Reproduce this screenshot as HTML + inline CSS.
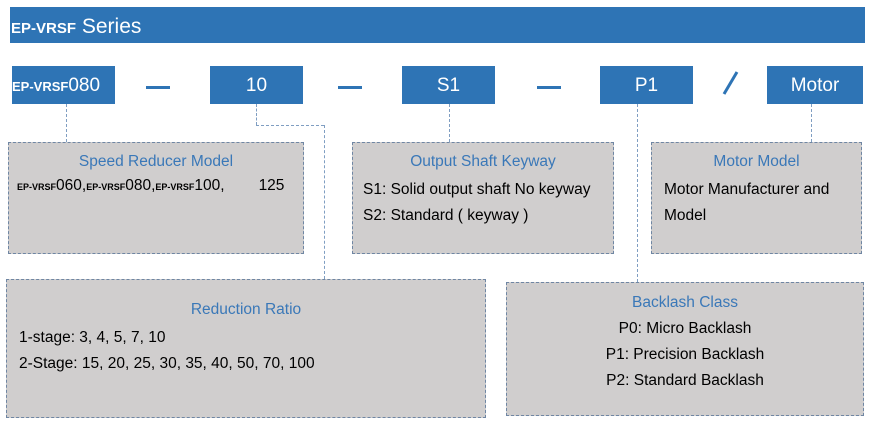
<!DOCTYPE html>
<html><head><meta charset="utf-8"><style>
body{margin:0;width:875px;height:429px;background:#fff;position:relative;overflow:hidden;font-family:"Liberation Sans",sans-serif}
.a{position:absolute}
.blue{background:#2e74b5;color:#fff;text-align:center;font-size:19px;line-height:40px;height:38px;top:66px}
.box{position:absolute;background:#d0cece;border:1px dashed #6f86a3;box-sizing:border-box;font-size:15.5px;color:#000}
.t{color:#3a78b8;font-size:15.5px;text-align:center}
.v{position:absolute;border-left:1px dashed #7f9ec2;width:0}
.h{position:absolute;border-top:1px dashed #7f9ec2;height:0}
.d{position:absolute;background:#2e74b5;height:3px;width:24px;top:86px}
.sm{font-size:9px;font-weight:bold}
</style></head><body>
<div class="a" style="left:10px;top:7px;width:855px;height:36px;background:#2e74b5;color:#fff;font-size:21px;line-height:40px;padding-left:1px;box-sizing:border-box"><span style="font-size:15px;font-weight:bold">EP-VRSF</span> Series</div>

<div class="a blue" style="left:12px;width:103px;text-align:left"><span style="font-size:13px;font-weight:bold">EP-VRSF</span>080</div>
<div class="a blue" style="left:210px;width:93px">10</div>
<div class="a blue" style="left:402px;width:93px">S1</div>
<div class="a blue" style="left:600px;width:93px">P1</div>
<div class="a blue" style="left:767px;width:96px">Motor</div>
<div class="d" style="left:146px"></div>
<div class="d" style="left:338px"></div>
<div class="d" style="left:537px"></div>
<svg class="a" style="left:715px;top:66px" width="30" height="34"><line x1="22" y1="6" x2="9" y2="28" stroke="#2e74b5" stroke-width="3"/></svg>

<div class="v" style="left:66px;top:104px;height:38px"></div>
<div class="v" style="left:256px;top:104px;height:21px"></div>
<div class="h" style="left:256px;top:125px;width:68px"></div>
<div class="v" style="left:324px;top:125px;height:154px"></div>
<div class="v" style="left:449px;top:104px;height:38px"></div>
<div class="v" style="left:637px;top:104px;height:178px"></div>
<div class="v" style="left:811px;top:104px;height:38px"></div>

<div class="box" style="left:8px;top:142px;width:296px;height:112px">
<div class="t" style="margin-top:10px">Speed Reducer Model</div>
<div style="margin:6px 0 0 8px;white-space:nowrap"><span class="sm">EP-VRSF</span>060,<span class="sm">EP-VRSF</span>080,<span class="sm">EP-VRSF</span>100,<span style="display:inline-block;width:34px"></span>125</div>
</div>
<div class="box" style="left:352px;top:142px;width:262px;height:112px">
<div class="t" style="margin-top:10px">Output Shaft Keyway</div>
<div style="margin:6px 0 0 10px;line-height:26px;white-space:nowrap">S1: Solid output shaft No keyway<br>S2: Standard ( keyway )</div>
</div>
<div class="box" style="left:651px;top:142px;width:211px;height:112px">
<div class="t" style="margin-top:10px">Motor Model</div>
<div style="margin:6px 0 0 12px;line-height:26px">Motor Manufacturer and<br>Model</div>
</div>
<div class="box" style="left:6px;top:279px;width:480px;height:139px">
<div class="t" style="margin-top:21px">Reduction Ratio</div>
<div style="margin:6px 0 0 12px;line-height:26px">1-stage: 3, 4, 5, 7, 10<br>2-Stage: 15, 20, 25, 30, 35, 40, 50, 70, 100</div>
</div>
<div class="box" style="left:506px;top:282px;width:358px;height:134px">
<div class="t" style="margin-top:11px">Backlash Class</div>
<div style="margin-top:4px;line-height:26px;text-align:center">P0: Micro Backlash<br>P1: Precision Backlash<br>P2: Standard Backlash</div>
</div>
</body></html>
